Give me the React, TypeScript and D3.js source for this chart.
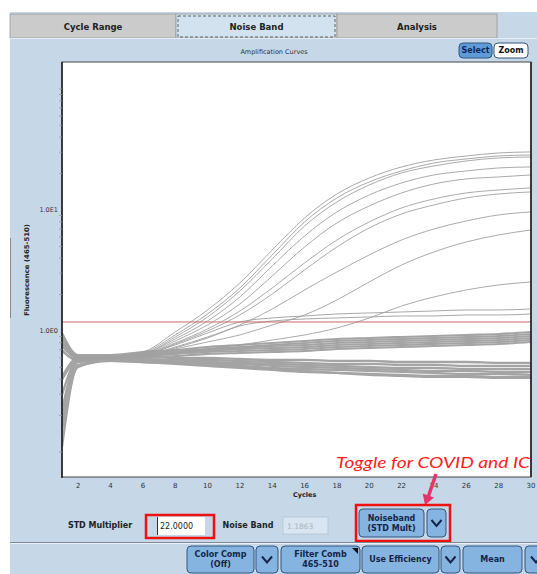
import * as d3 from "d3";
import React from "react";

const cycles = [1, 2, 4, 6, 8, 10, 12, 14, 16, 18, 20, 22, 24, 26, 28, 30];

// amplifying wells
const ampCurves: number[][] = [
  [0.927, 0.621, 0.621, 0.671, 0.981, 1.491, 2.493, 4.671, 8.59, 13.56, 18.39, 22.67, 25.89, 27.95, 29.59, 30.16],
  [0.875, 0.61, 0.61, 0.658, 0.927, 1.382, 2.267, 4.247, 7.96, 12.57, 17.04, 21.01, 24.45, 26.39, 27.95, 28.48],
  [0.842, 0.598, 0.61, 0.646, 0.892, 1.305, 2.141, 3.936, 7.375, 11.65, 16.09, 20.22, 23.1, 25.41, 26.9, 27.42],
  [0.811, 0.598, 0.61, 0.646, 0.859, 1.209, 1.91, 3.445, 6.097, 9.627, 13.3, 16.72, 19.47, 21.01, 22.24, 22.67],
  [0.766, 0.587, 0.598, 0.633, 0.827, 1.121, 1.672, 2.848, 4.945, 7.808, 10.79, 13.82, 16.4, 18.04, 18.74, 19.47],
  [0.737, 0.587, 0.598, 0.633, 0.796, 1.039, 1.463, 2.267, 3.648, 5.65, 7.96, 10.39, 12.33, 13.82, 14.63, 15.2],
  [0.71, 0.576, 0.598, 0.621, 0.781, 1.0, 1.356, 2.022, 3.192, 4.945, 7.1, 9.268, 11.0, 12.57, 13.56, 14.09],
  [0.697, 0.576, 0.598, 0.621, 0.737, 0.892, 1.121, 1.52, 2.182, 3.073, 4.247, 5.65, 6.966, 8.113, 9.094, 9.627],
  [0.683, 0.565, 0.587, 0.621, 0.71, 0.811, 0.927, 1.121, 1.356, 1.804, 2.541, 3.511, 4.497, 5.439, 6.215, 6.836],
  [0.671, 0.565, 0.587, 0.61, 0.658, 0.71, 0.766, 0.842, 0.927, 1.059, 1.281, 1.609, 1.91, 2.182, 2.4, 2.541],
];

// weak wells hovering just above the noise band
const weakCurves: number[][] = [
  [0.697, 0.576, 0.598, 0.633, 0.766, 0.962, 1.187, 1.281, 1.33, 1.382, 1.408, 1.435, 1.463, 1.491, 1.491, 1.52],
  [0.683, 0.565, 0.587, 0.621, 0.724, 0.875, 1.1, 1.209, 1.256, 1.281, 1.305, 1.33, 1.33, 1.356, 1.356, 1.382],
];

// negative wells, upper bundle
const upperBand: number[][] = [
  [0.962, 0.633, 0.633, 0.671, 0.697, 0.737, 0.766, 0.796, 0.827, 0.859, 0.875, 0.892, 0.909, 0.927, 0.944, 0.981],
  [0.892, 0.621, 0.621, 0.658, 0.683, 0.71, 0.737, 0.766, 0.796, 0.827, 0.842, 0.859, 0.875, 0.892, 0.909, 0.944],
  [0.811, 0.61, 0.61, 0.646, 0.671, 0.697, 0.724, 0.752, 0.766, 0.796, 0.811, 0.827, 0.842, 0.859, 0.875, 0.909],
  [0.222, 0.587, 0.61, 0.633, 0.658, 0.683, 0.71, 0.724, 0.737, 0.766, 0.781, 0.796, 0.811, 0.827, 0.842, 0.875],
  [0.394, 0.576, 0.598, 0.621, 0.646, 0.671, 0.683, 0.697, 0.71, 0.737, 0.752, 0.766, 0.781, 0.796, 0.811, 0.842],
  [0.752, 0.598, 0.598, 0.61, 0.621, 0.646, 0.658, 0.671, 0.683, 0.71, 0.724, 0.737, 0.752, 0.766, 0.781, 0.811],
];

// negative wells, lower bundle
const lowerBand: number[][] = [
  [0.859, 0.61, 0.598, 0.61, 0.598, 0.598, 0.587, 0.576, 0.576, 0.565, 0.565, 0.554, 0.554, 0.554, 0.544, 0.544],
  [0.781, 0.598, 0.587, 0.587, 0.576, 0.576, 0.565, 0.554, 0.544, 0.534, 0.534, 0.524, 0.524, 0.514, 0.514, 0.514],
  [0.417, 0.598, 0.587, 0.576, 0.565, 0.554, 0.544, 0.534, 0.524, 0.514, 0.504, 0.495, 0.495, 0.485, 0.485, 0.485],
  [0.296, 0.576, 0.576, 0.576, 0.554, 0.544, 0.534, 0.514, 0.504, 0.495, 0.485, 0.476, 0.467, 0.467, 0.459, 0.459],
  [0.184, 0.554, 0.576, 0.565, 0.544, 0.534, 0.514, 0.495, 0.485, 0.476, 0.467, 0.459, 0.45, 0.442, 0.442, 0.433],
  [0.11, 0.524, 0.565, 0.554, 0.534, 0.514, 0.495, 0.476, 0.459, 0.45, 0.442, 0.433, 0.425, 0.425, 0.417, 0.417],
  [0.152, 0.504, 0.565, 0.554, 0.544, 0.524, 0.504, 0.485, 0.467, 0.45, 0.433, 0.425, 0.417, 0.417, 0.409, 0.409],
];

const xTicks = [2, 4, 6, 8, 10, 12, 14, 16, 18, 20, 22, 24, 26, 28, 30];
const yMajor = [1, 10];
const yMajorLabels = ["1.0E0", "1.0E1"];
const yMinor = [0.1, 0.2, 0.3, 0.4, 0.5, 0.6, 0.7, 0.8, 0.9, 2, 3, 4, 5, 6, 7, 8, 9, 20, 30, 40, 50, 60, 70, 80, 90, 100];
const noiseBand = 1.1863;
const stdMultiplier = "22.0000";
const tabs = ["Cycle Range", "Noise Band", "Analysis"];

const W = 537;
const H = 574;
const plot = { left: 62, right: 531, top: 62, bottom: 477 };
const panelBlue = "#c6d7e8";
const btnFill = "#84b4df";
const btnStroke = "#34557c";
const btnText = "#15254a";
const uiFont = "'DejaVu Sans', Verdana, sans-serif";

function Button({ x, y, w, h, lines, fill = btnFill, color = btnText, size = 8 }: {
  x: number; y: number; w: number; h: number; lines: string[]; fill?: string; color?: string; size?: number;
}) {
  const lh = size + 2;
  const y0 = y + h / 2 - ((lines.length - 1) * lh) / 2;
  return (
    <g>
      <rect x={x} y={y} width={w} height={h} rx={4} fill={fill} stroke={btnStroke} strokeWidth={1} />
      {lines.map((t, i) => (
        <text key={t} x={x + w / 2} y={y0 + i * lh} dy="0.35em" textAnchor="middle" fontSize={size}
          fontWeight="bold" fill={color} fontFamily={uiFont}>{t}</text>
      ))}
    </g>
  );
}

function Drop({ x, y, w, h }: { x: number; y: number; w: number; h: number }) {
  const cx = x + w / 2;
  const cy = y + h / 2;
  return (
    <g>
      <rect x={x} y={y} width={w} height={h} rx={4} fill={btnFill} stroke={btnStroke} strokeWidth={1} />
      <path d={`M${cx - 5},${cy - 3} L${cx},${cy + 3} L${cx + 5},${cy - 3}`} fill="none" stroke={btnText} strokeWidth={2} />
    </g>
  );
}

export default function App() {
  const x = d3.scaleLinear([1, 30], [plot.left, plot.right]);
  const y = d3.scaleLog([0.0621, 167], [plot.bottom, plot.top]);
  const line = d3
    .line<number>()
    .x((_, i) => x(cycles[i]))
    .y((d) => y(d))
    .curve(d3.curveMonotoneX);

  const tabX = [10, 176, 337, 497];

  return (
    <svg width={W} height={H} style={{ position: "absolute", left: 0, top: 0 }} fontFamily={uiFont}>
      <rect width={W} height={H} fill="#ffffff" />
      {/* panel */}
      <rect x={10} y={12} width={W - 10} height={H - 12} fill={panelBlue} />
      <line x1={10.5} x2={10.5} y1={238} y2={318} stroke="#8a8a8a" strokeWidth={1} />

      {/* tabs */}
      {tabs.map((t, i) => {
        const active = i === 1;
        return (
          <g key={t}>
            <rect x={tabX[i]} y={14} width={tabX[i + 1] - tabX[i]} height={24}
              fill={active ? "#d3e2ef" : "#cbcbcb"} stroke="#9a9a9a" strokeWidth={0.8} />
            {active && (
              <rect x={tabX[i] + 2} y={16} width={tabX[i + 1] - tabX[i] - 4} height={21}
                fill="none" stroke="#444" strokeWidth={0.8} strokeDasharray="3,2" />
            )}
            <text x={(tabX[i] + tabX[i + 1]) / 2} y={27} dy="0.35em" textAnchor="middle" fontSize={8.5}
              fontWeight="bold" fill="#222">{t}</text>
          </g>
        );
      })}
      <line x1={10} x2={W} y1={38.5} y2={38.5} stroke="#e4edf5" strokeWidth={1} />

      {/* header */}
      <text x={274} y={52} textAnchor="middle" dy="0.35em" fontSize={6.5} fill="#333">Amplification Curves</text>
      <Button x={459} y={43} w={33} h={15} lines={["Select"]} fill="#5f9bd6" color="#0e2a5c" size={8} />
      <Button x={494} y={43} w={34} h={15} lines={["Zoom"]} fill="#ffffff" color="#111" size={8} />

      {/* plot */}
      <defs>
        <clipPath id="plotClip">
          <rect x={plot.left} y={plot.top} width={plot.right - plot.left} height={plot.bottom - plot.top} />
        </clipPath>
      </defs>
      <rect x={plot.left} y={plot.top} width={plot.right - plot.left} height={plot.bottom - plot.top} fill="#ffffff" />
      <g clipPath="url(#plotClip)" fill="none">
        {lowerBand.map((d, i) => (
          <path key={`l${i}`} d={line(d) ?? ""} stroke="#a4a4a4" strokeWidth={2.3} />
        ))}
        {upperBand.map((d, i) => (
          <path key={`u${i}`} d={line(d) ?? ""} stroke="#a4a4a4" strokeWidth={2.1} />
        ))}
        {weakCurves.map((d, i) => (
          <path key={`w${i}`} d={line(d) ?? ""} stroke="#a8a8a8" strokeWidth={1} />
        ))}
        {ampCurves.map((d, i) => (
          <path key={`a${i}`} d={line(d) ?? ""} stroke="#a0a0a0" strokeWidth={0.9} />
        ))}
        <line x1={plot.left} x2={plot.right} y1={y(noiseBand)} y2={y(noiseBand)} stroke="#c86a6a" strokeWidth={1} />
      </g>
      <rect x={plot.left} y={plot.top} width={plot.right - plot.left} height={plot.bottom - plot.top}
        fill="none" stroke="#444" strokeWidth={1} />
      <line x1={plot.left} x2={plot.left} y1={plot.top} y2={plot.bottom + 1} stroke="#222" strokeWidth={1.6} />
      <line x1={plot.right} x2={plot.right} y1={plot.top} y2={plot.bottom} stroke="#222" strokeWidth={1.6} />

      {/* y axis */}
      {yMinor.map((v) => (
        <line key={v} x1={plot.left - 3} x2={plot.left} y1={y(v)} y2={y(v)} stroke="#999" strokeWidth={0.8} />
      ))}
      {yMajor.map((v, i) => (
        <text key={v} x={plot.left - 4} y={y(v)} dy="0.35em" textAnchor="end" fontSize={6.5} fill="#333">
          {yMajorLabels[i]}
        </text>
      ))}
      <text transform="translate(27,270) rotate(-90)" textAnchor="middle" dy="0.35em" fontSize={6.5}
        fontWeight="bold" fill="#222" textLength={92} lengthAdjust="spacingAndGlyphs">Fluorescence (465-510)</text>

      {/* x axis */}
      {xTicks.map((v) => (
        <text key={v} x={x(v)} y={486} dy="0.35em" textAnchor="middle" fontSize={7} fill="#333">{v}</text>
      ))}
      <text x={x(16)} y={495} dy="0.35em" textAnchor="middle" fontSize={6.5} fontWeight="bold" fill="#222">Cycles</text>

      {/* annotation */}
      <text x={336} y={468} fontSize={15} fontStyle="italic" fill="#ff1c1c" fontFamily="Lato, 'DejaVu Sans', sans-serif"
        textLength={194} lengthAdjust="spacingAndGlyphs">Toggle for COVID and IC</text>
      <line x1={436} y1={474} x2={428.5} y2={496} stroke="#e5336b" strokeWidth={3.5} />
      <polygon points="425,505 434,497.6 422.7,493.6" fill="#e5336b" />

      {/* controls row */}
      <text x={100} y={525} dy="0.35em" textAnchor="middle" fontSize={8} fontWeight="bold" fill="#222">STD Multiplier</text>
      <rect x={157} y={517} width={48} height={18} fill="#ffffff" />
      <line x1={157.5} x2={157.5} y1={517} y2={535} stroke="#333" strokeWidth={1} />
      <text x={160} y={526} dy="0.35em" fontSize={8} fill="#222">{stdMultiplier}</text>
      <rect x={146} y={515} width={68} height={23} fill="none" stroke="#ee1111" strokeWidth={2.5} />

      <text x={248} y={525} dy="0.35em" textAnchor="middle" fontSize={8} fontWeight="bold" fill="#222">Noise Band</text>
      <rect x={283} y={517} width={45} height={17} fill="#d9e5f0" stroke="#b5c4d2" strokeWidth={0.8} />
      <text x={287} y={526} dy="0.35em" fontSize={7.5} fill="#a9b4bf">{noiseBand.toFixed(4)}</text>

      <Button x={359} y={509} w={65} h={28} lines={["Noiseband", "(STD Mult)"]} size={8} />
      <Drop x={427} y={509} w={19} h={28} />
      <rect x={356} y={505} width={94} height={36} fill="none" stroke="#ee1111" strokeWidth={2.5} />

      {/* bottom toolbar */}
      <line x1={10} x2={W} y1={542.5} y2={542.5} stroke="#7f8a96" strokeWidth={1} />
      <line x1={10} x2={W} y1={543.5} y2={543.5} stroke="#e8eff6" strokeWidth={1} />
      <Button x={187} y={546} w={67} h={27} lines={["Color Comp", "(Off)"]} size={8} />
      <Drop x={256} y={546} w={22} h={27} />
      <Button x={281} y={546} w={79} h={27} lines={["Filter Comb", "465-510"]} size={8} />
      <polygon points="352,548 358,548 358,554" fill="#111" />
      <Button x={362} y={546} w={77} h={27} lines={["Use Efficiency"]} size={8} />
      <Drop x={441} y={546} w={19} h={27} />
      <Button x={463} y={546} w={59} h={27} lines={["Mean"]} size={8} />
      <Drop x={525} y={546} w={22} h={27} />
    </svg>
  );
}
